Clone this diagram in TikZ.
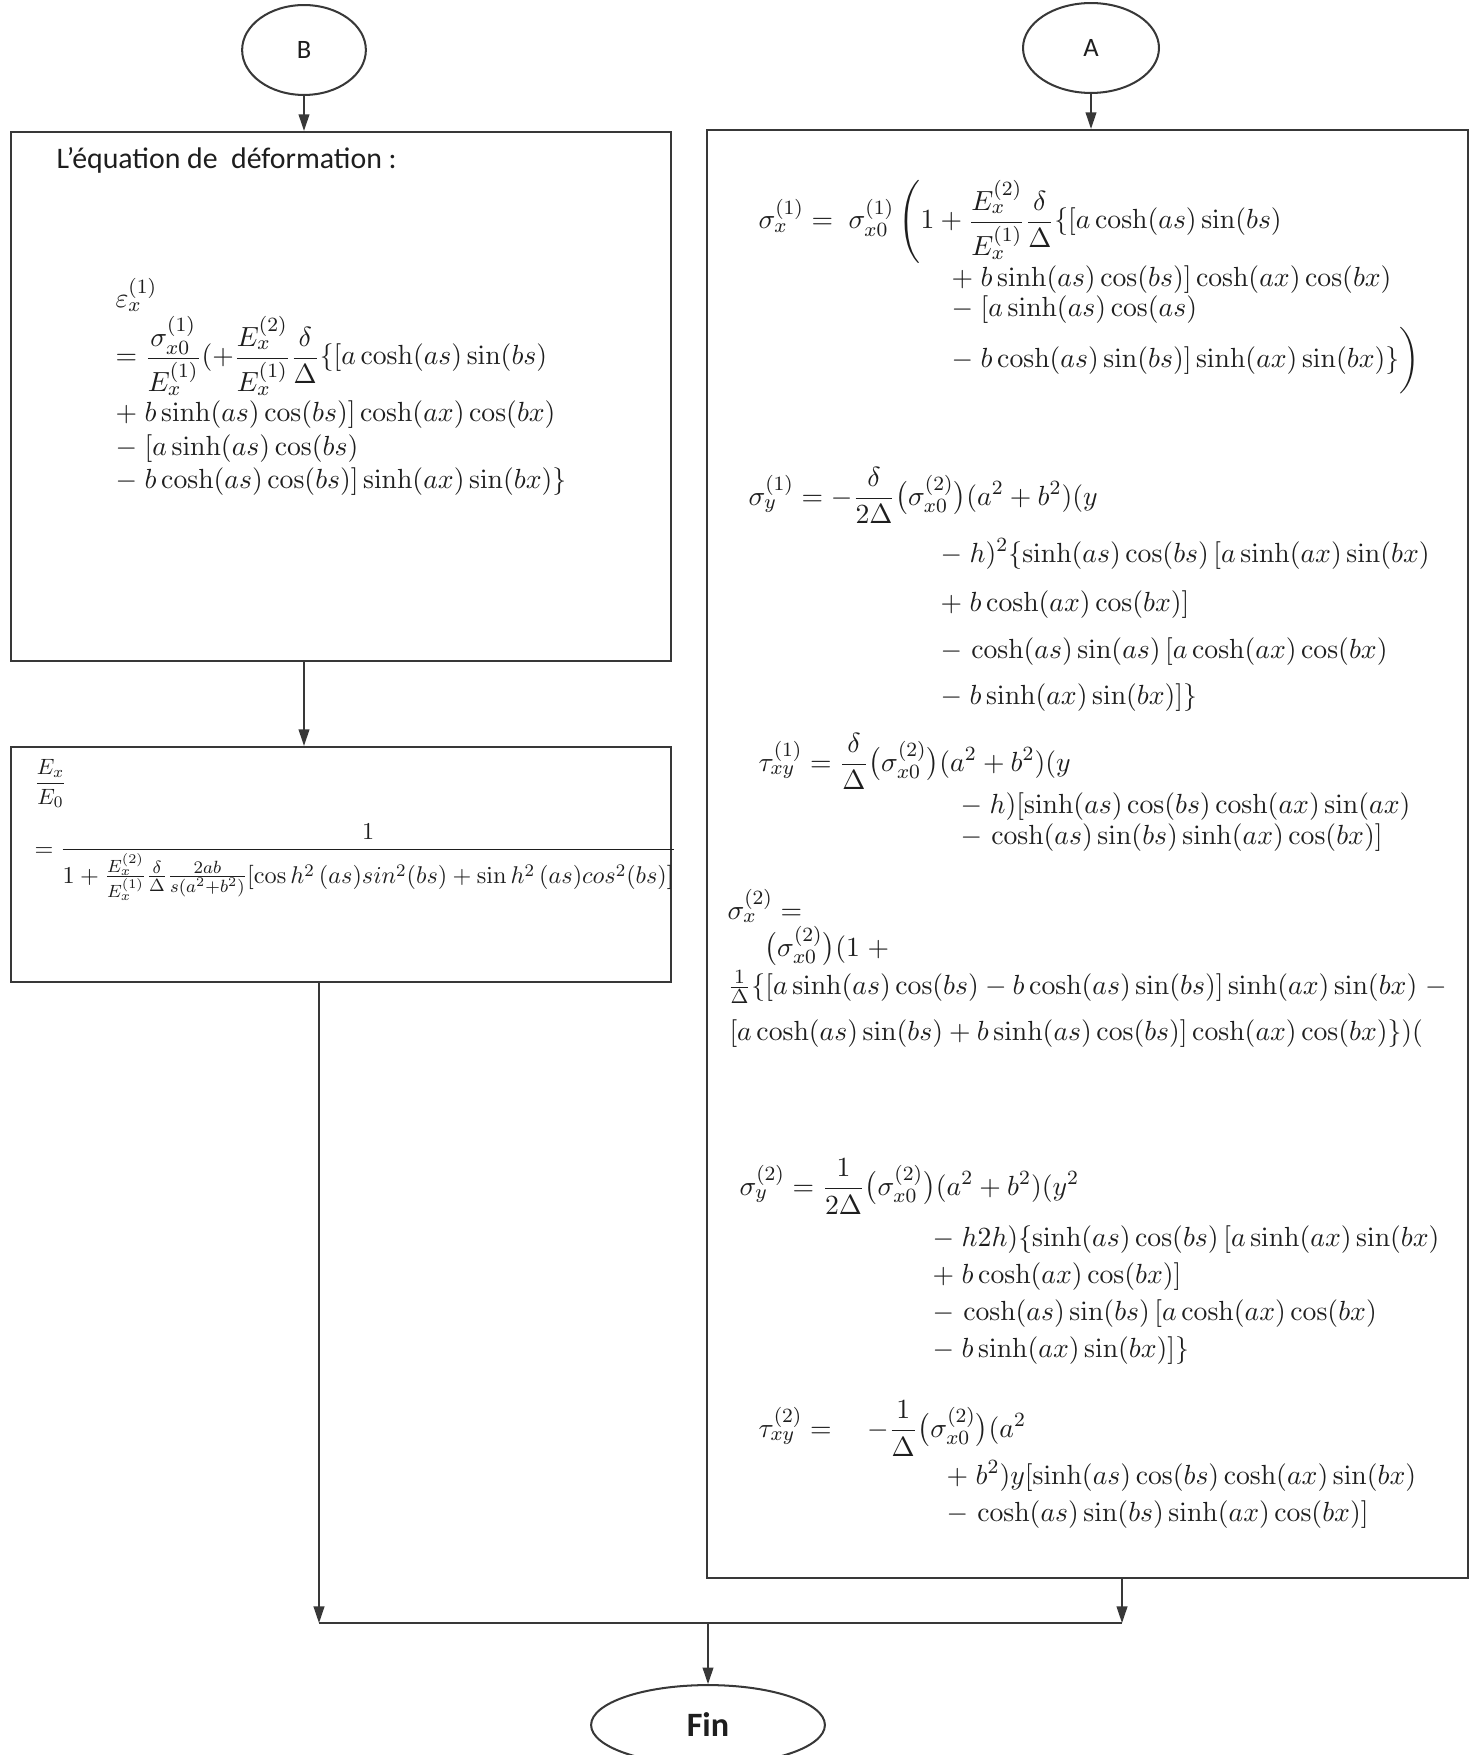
\documentclass[tikz,border=0pt]{standalone}
\usepackage{amsmath,amssymb,graphicx}
\usepackage[no-math]{fontspec}
\newfontfamily\carlito{Carlito}
\usepackage{tikz}
\usetikzlibrary{arrows.meta,positioning,shapes.geometric,fit}
\definecolor{trait}{HTML}{383838}
\definecolor{encre}{HTML}{1E1E1E}

\begin{document}
\begin{tikzpicture}[x=0.0139cm,y=-0.0139cm,
			boite/.style={draw=trait,line width=0.9pt,inner sep=0pt},
			bulle/.style={draw=trait,line width=0.8pt,ellipse,inner sep=0pt,text=encre,font=\carlito\fontsize{10.5}{12}\selectfont},
			titre/.style={anchor=base west,inner sep=0pt,text=encre,font=\carlito\fontsize{11.8}{14}\selectfont},
			eq/.style={anchor=base west,inner sep=0pt,text=encre,font=\fontsize{10.95}{13.6}\selectfont},
			fleche/.style={draw=trait,line width=0.6pt,-{Triangle[length=2.3mm,width=1.5mm]}},
			lien/.style={draw=trait,line width=0.6pt}
			]
			\useasboundingbox (0,0) rectangle (1476,1755);
			% cadres
			\node[boite,fit={(11,132) (671,661)}] (deform) {};
			\node[boite,fit={(11,747) (671,982)}] (rapport) {};
			\node[boite,fit={(707,130) (1468,1578)}] (contr) {};
			\node[bulle,minimum width=1.72cm,minimum height=1.25cm] (B) at (304,50) {B};
			\node[bulle,minimum width=1.89cm,minimum height=1.25cm] (A) at (1091,48) {A};
			\node[bulle,minimum width=3.25cm,minimum height=1.11cm,font=\carlito\bfseries\fontsize{13.5}{15}\selectfont] (fin) at (708,1725) {Fin};
			% deformation
			\node[titre] (tdef) at (56,169) {L’équation de\ \ déformation :};
			\node[eq] (e1) at (115,308) {$\varepsilon_x^{(1)}$};
			\node[eq] (e2) at (115,365) {$=\dfrac{\sigma_{x0}^{(1)}}{E_x^{(1)}}(+\dfrac{E_x^{(2)}}{E_x^{(1)}}\dfrac{\delta}{\Delta}\{[a\cosh(as)\sin(bs)$};
			\node[eq] (e3) at (115,422) {$+\;b\sinh(as)\cos(bs)]\cosh(ax)\cos(bx)$};
			\node[eq] (e4) at (115,455) {$-\;[a\sinh(as)\cos(bs)$};
			\node[eq] (e5) at (115,488) {$-\;b\cosh(as)\cos(bs)]\sinh(ax)\sin(bx)\}$};
			% rapport des modules
			\node[eq] (r1) at (34,789) {\scalebox{0.8}{$\dfrac{E_x}{E_0}$}};
			\node[eq] (r2) at (34,856) {\scalebox{0.875}{$=\dfrac{1}{1+\frac{E_x^{(2)}}{E_x^{(1)}}\frac{\delta}{\Delta}\frac{2ab}{s(a^2+b^2)}[\cos h^2\,(as)sin^2(bs)+\sin h^2\,(as)cos^2(bs)]}$}};
			% contraintes
			\node[eq] (sx1a) at (758,229) {$\sigma_x^{(1)}=\;\sigma_{x0}^{(1)}\left(1+\dfrac{E_x^{(2)}}{E_x^{(1)}}\dfrac{\delta}{\Delta}\{[a\cosh(as)\sin(bs)\right.$};
			\node[eq] (sx1b) at (951,287) {$+\;b\sinh(as)\cos(bs)]\cosh(ax)\cos(bx)$};
			\node[eq] (sx1c) at (951,317) {$-\;[a\sinh(as)\cos(as)$};
			\node[eq] (sx1d) at (951,368) {$-\;b\cosh(as)\sin(bs)]\sinh(ax)\sin(bx)\}\bigg)$};
			\node[eq] (sy1a) at (748,505) {$\sigma_y^{(1)}=-\dfrac{\delta}{2\Delta}\big(\sigma_{x0}^{(2)}\big)(a^2+b^2)(y$};
			\node[eq] (sy1b) at (940,562) {$-\;h)^2\{\sinh(as)\cos(bs)\,[a\sinh(ax)\sin(bx)$};
			\node[eq] (sy1c) at (940,611) {$+\;b\cosh(ax)\cos(bx)]$};
			\node[eq] (sy1d) at (940,658) {$-\,\cosh(as)\sin(as)\,[a\cosh(ax)\cos(bx)$};
			\node[eq] (sy1e) at (940,704) {$-\;b\sinh(ax)\sin(bx)]\}$};
			\node[eq] (t1a) at (758,771) {$\tau_{xy}^{(1)}=\dfrac{\delta}{\Delta}\big(\sigma_{x0}^{(2)}\big)(a^2+b^2)(y$};
			\node[eq] (t1b) at (960,813) {$-\;h)[\sinh(as)\cos(bs)\cosh(ax)\sin(ax)$};
			\node[eq] (t1c) at (960,844) {$-\,\cosh(as)\sin(bs)\sinh(ax)\cos(bx)]$};
			\node[eq] (sx2a) at (727,919) {$\sigma_x^{(2)}=$};
			\node[eq] (sx2b) at (764,956) {$\big(\sigma_{x0}^{(2)}\big)(1\;+$};
			\node[eq] (sx2c) at (727,994) {$\tfrac{1}{\Delta}\{[a\sinh(as)\cos(bs)-b\cosh(as)\sin(bs)]\sinh(ax)\sin(bx)\;-$};
			\node[eq] (sx2d) at (729,1040) {$[a\cosh(as)\sin(bs)+b\sinh(as)\cos(bs)]\cosh(ax)\cos(bx)\})($};
			\node[eq] (sy2a) at (739,1195) {$\sigma_y^{(2)}=\dfrac{1}{2\Delta}\big(\sigma_{x0}^{(2)}\big)(a^2+b^2)(y^2$};
			\node[eq] (sy2b) at (932,1246) {$-\;h2h)\{\sinh(as)\cos(bs)\,[a\sinh(ax)\sin(bx)$};
			\node[eq] (sy2c) at (932,1283) {$+\;b\cosh(ax)\cos(bx)]$};
			\node[eq] (sy2d) at (932,1320) {$-\,\cosh(as)\sin(bs)\,[a\cosh(ax)\cos(bx)$};
			\node[eq] (sy2e) at (932,1357) {$-\;b\sinh(ax)\sin(bx)]\}$};
			\node[eq] (t2a) at (758,1437) {$\tau_{xy}^{(2)}=\quad-\dfrac{1}{\Delta}\big(\sigma_{x0}^{(2)}\big)(a^2$};
			\node[eq] (t2b) at (946,1484) {$+\;b^2)y[\sinh(as)\cos(bs)\cosh(ax)\sin(bx)$};
			\node[eq] (t2c) at (946,1521) {$-\,\cosh(as)\sin(bs)\sinh(ax)\cos(bx)]$};
			% liaisons
			\coordinate (jg) at (319,1623);
			\coordinate (jd) at (1122,1623);
			\coordinate (jm) at (708,1623);
			\draw[fleche] (B) -- (B |- deform.north);
			\draw[fleche] (A) -- (A |- contr.north);
			\draw[fleche] (B |- deform.south) -- (B |- rapport.north);
			\draw[fleche] (jg |- rapport.south) -- (jg);
			\draw[fleche] (jd |- contr.south) -- (jd);
			\draw[lien] (jg) -- (jd);
			\draw[fleche] (jm) -- (fin);
		\end{tikzpicture}
\end{document}
